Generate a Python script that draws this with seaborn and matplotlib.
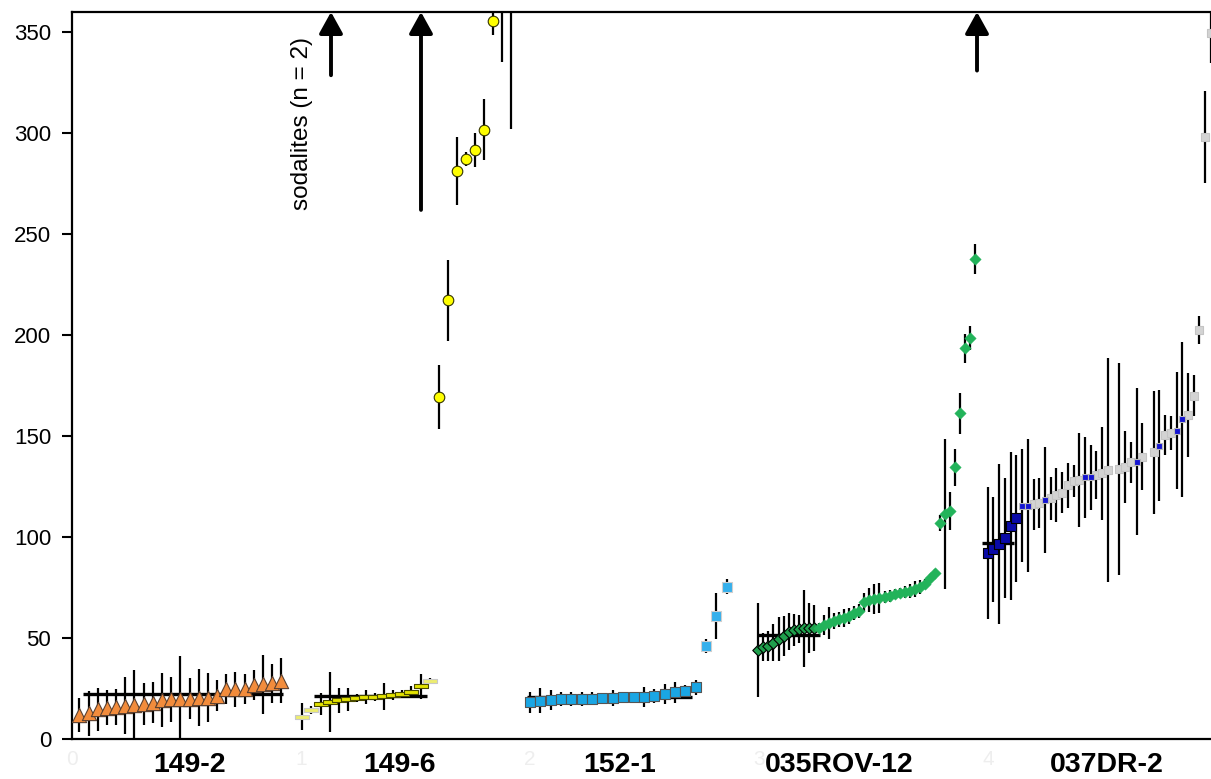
import numpy as np
import pandas as pd
import matplotlib.pyplot as plt
import seaborn as sns

groups = ['149-2', '149-6', '152-1', '035ROV-12', '037DR-2']
label_x = [0.515, 1.43, 2.39, 3.35, 4.52]

# 149-2 (orange triangles)
a_val = [11.7, 12.7, 14.7, 15.5, 16.0, 16.5, 16.8, 17.2, 18.0, 19.3, 19.6, 20.0,
         20.0, 20.5, 20.5, 21.5, 24.6, 24.6, 24.9, 26.6, 27.1, 27.6, 28.9]
a_err = [8.4, 11, 10.6, 8.7, 9, 14, 17.5, 10.4, 10, 13.4, 11, 21,
         10, 14, 12, 7.5, 7.5, 8.7, 7.5, 7.5, 14.6, 9.7, 11]

# 149-6 (yellow dashes, then yellow circles)
b_low_val = [11.0, 14.5, 17.3, 18.3, 19.1, 19.6, 20.3, 20.6, 20.9, 21.1, 21.6, 22.3, 23.3, 26.2, 28.7]
b_low_err = [6.6, 2, 5.6, 14.9, 6, 5.5, 2, 3.5, 2, 6.8, 2.5, 2, 3, 6.2, 1.5]
b_high_val = [169.3, 217.3, 281.3, 287.1, 291.6, 301.8, 355.3, 385, 400]
b_high_err = [16, 20, 17, 3.5, 8.4, 15, 6.5, 50, 98]

# 152-1 (light blue squares)
c_val = [18.2, 19.0, 19.5, 19.7, 19.8, 19.8, 19.9, 20.3, 20.4, 20.6, 20.9, 20.9,
         21.3, 22.1, 23.1, 23.8, 25.7, 46.0, 60.9, 75.4]
c_err = [5.3, 6.3, 5, 3.5, 3.5, 3.3, 3.2, 2.5, 4, 2.5, 2.1, 5,
         3.3, 5, 5.3, 3, 3.7, 3.3, 11.4, 3.7]

# 035ROV-12 (green diamonds)
d_dark_val = [44.1, 45.4, 46.2, 47.7, 49.5, 51.0, 53.1, 54.0, 54.5, 54.8, 54.8, 55.0]
d_dark_err = [23.1, 7.0, 7.4, 9.1, 11.1, 9.9, 9.1, 7.8, 7.0, 19.0, 12.4, 11.6]
d_light_val = [55.0, 56.3, 57.3, 58.4, 59.2, 60.0, 60.9, 62.2, 63.5, 68.0, 68.8, 69.3,
               69.7, 70.2, 70.8, 71.6, 72.4, 72.8, 73.3, 74.1, 75.1, 76.7, 79.5, 82.3,
               106.8, 111.4, 113.0, 134.5, 161.2, 193.4, 198.4, 237.5]
d_light_err = [2.5, 5, 8, 4, 3.5, 4.5, 4, 3.5, 3.5, 4.5, 6, 7.4,
               7.4, 3, 3, 2.5, 2.5, 3, 3.5, 4, 3.5, 2.5, 2, 2,
               4, 37, 9.5, 9, 10, 7, 6, 7.4]

# 037DR-2 (N = navy, B = blue, G = grey; nan = gap)
e_val = [92.2, 93.9, 96.5, 99.7, 105.4, 109.3, 115.5, 115.5, 116.2, 117.0,
         118.3, 119.2, 120.8, 121.9, 125.7, 127.7, 128.2, 129.5, 129.5, 130.7,
         131.5, 133.2, np.nan, 133.5, 134.8, 137.0, 137.3, 139.8, np.nan, 141.9,
         145.2, 150.5, 151.3, 152.6, 158.4, 160.4, 170.0, 202.5, 298.0, 349.5]
e_err = [32.8, 26, 39.6, 29.7, 36.7, 31.4, 28, 33, 12.6, 12.4,
         26.4, 10.7, 13.2, 10.2, 11.1, 7.8, 23.1, 20, 15.9, 12,
         23.1, 55.3, np.nan, 52.5, 17.7, 10.3, 36.3, 16.5, np.nan, 30.4,
         27.5, 10, 8.4, 28.9, 38.4, 20.9, 10.3, 7, 22.7, 15]
e_kind = list('NNNNNNBBGGBGGGGGGBBGGG-GGGBG-GBGGBBGGGGG')

# group means: value, x from, x to
mean_val = [22.1, 21.3, 20.9, 51.5, 96.9]
mean_x0 = [0.048, 1.057, 1.986, 2.996, 3.974]
mean_x1 = [0.921, 1.549, 2.706, 3.266, 4.114]

# off-scale values shown as arrows
arrow_x = [1.131, 1.524, 3.952]
arrow_low = [328.7, 262.0, 331.0]

start = [0.032, 1.006, 2.0, 2.997, 3.999]
step = [0.0401, 0.0397, 0.0452, 0.02205, 0.02498]

sns.set_theme(style='ticks')
plt.rcParams['font.family'] = ['Liberation Sans', 'DejaVu Sans']
plt.rcParams['text.color'] = 'black'

fig = plt.figure(figsize=(12.11, 7.79), dpi=100)
ax = fig.add_axes([72 / 1211, 40 / 779, 1139 / 1211, 727 / 779])


def draw(x, val, err, marker, s, face, edge, lw=0.8):
    ax.errorbar(x, val, yerr=err, fmt='none', ecolor='black', elinewidth=1.6,
                capsize=0, zorder=2)
    df = pd.DataFrame({'x': x, 'y': val})
    sns.scatterplot(data=df, x='x', y='y', ax=ax, marker=marker, s=s, color=face,
                    edgecolor=edge, linewidth=lw, zorder=3, legend=False)


def xs(g, n, offset=0):
    return start[g] + step[g] * (np.arange(n) + offset)


dash = [(-1, -0.3), (1, -0.3), (1, 0.3), (-1, 0.3), (-1, -0.3)]

draw(xs(0, len(a_val)), a_val, a_err, '^', 105, '#f28c3c', '#5a4030')

xb = xs(1, len(b_low_val))
draw(xb[2:14], b_low_val[2:14], b_low_err[2:14], dash, 95, '#e3e300', '#4a4a00')
edge_idx = [0, 1, 14]
draw(xb[edge_idx], np.array(b_low_val)[edge_idx], np.array(b_low_err)[edge_idx],
     dash, 95, '#eded70', '#c8c8c8')
draw(xs(1, len(b_high_val), len(b_low_val)), b_high_val, b_high_err, 'o', 58,
     '#ffff00', '#333300')

xc = xs(2, len(c_val))
draw(xc[:17], c_val[:17], c_err[:17], 's', 42, '#1aa6e4', '#555555')
draw(xc[17:], c_val[17:], c_err[17:], 's', 42, '#35b0ec', '#cfcfcf')

draw(xs(3, len(d_dark_val)), d_dark_val, d_dark_err, 'D', 34, '#1f9f4c', 'black')
draw(xs(3, len(d_light_val), len(d_dark_val)), d_light_val, d_light_err, 'D', 34,
     '#22b35a', '#22b35a', 0.3)

xe = xs(4, len(e_val))
e_val = np.array(e_val)
e_err = np.array(e_err)
kind = np.array(e_kind)
for k, s, face, edge in [('G', 38, '#d3d3d3', '#c4c4c4'), ('N', 48, '#0a0aa8', 'black'),
                         ('B', 24, '#1414d2', '#b8b8b8')]:
    m = kind == k
    draw(xe[m], e_val[m], e_err[m], 's', s, face, edge)

ax.hlines(mean_val, mean_x0, mean_x1, colors='black', linewidth=2.4, zorder=2.5)

for x, low in zip(arrow_x, arrow_low):
    ax.annotate('', xy=(x, 360), xytext=(x, low), annotation_clip=False,
                arrowprops=dict(arrowstyle='-|>,head_width=0.36,head_length=0.65',
                                mutation_scale=20, lw=2.8, color='black',
                                shrinkA=0, shrinkB=0))

ax.text(1.003, 305, 'sodalites (n = 2)', rotation=90, ha='center', va='center',
        fontsize=17.5, color='black')

trans = ax.get_xaxis_transform()
for name, x in zip(groups, label_x):
    ax.text(x, -0.036, name, transform=trans, ha='center', va='center',
            fontsize=20.5, fontweight='bold', color='black')

ax.set_xlim(0, 1139 / 229)
ax.set_ylim(0, 360)
ax.set_yticks(range(0, 351, 50))
ax.set_xticks(range(5))
ax.set_xticklabels([str(i) for i in range(5)], color='#eeeeee')
ax.tick_params(axis='x', length=0, labelsize=15, pad=8)
ax.tick_params(axis='y', length=7, width=1.5, labelsize=16, colors='black',
               direction='out', pad=8)
ax.set_xlabel('')
ax.set_ylabel('')
for side in ['left', 'bottom', 'top']:
    ax.spines[side].set_linewidth(1.6)
    ax.spines[side].set_color('black')
ax.spines['right'].set_visible(False)

fig.savefig('out.png', dpi=100)
